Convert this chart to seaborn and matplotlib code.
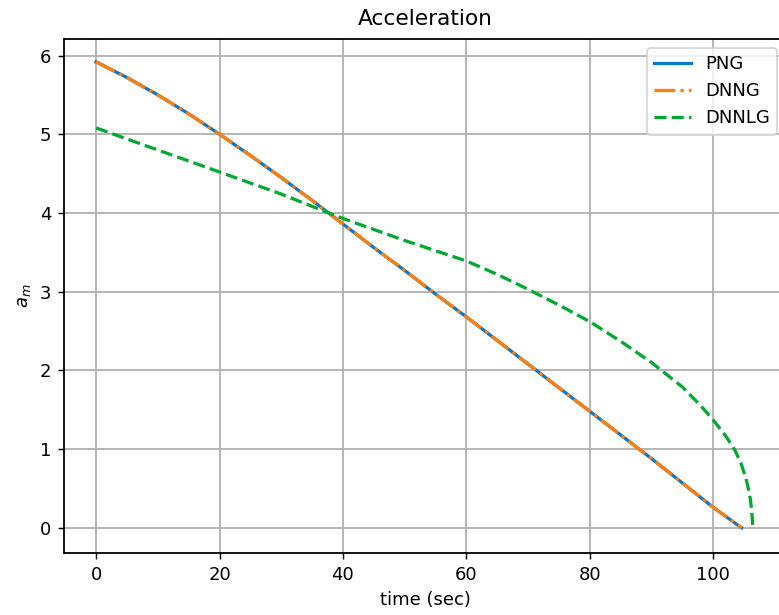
import matplotlib
matplotlib.use("Agg")
import matplotlib.pyplot as plt
import seaborn as sns

# Data
png_t = [0, 5, 10, 15, 20, 25, 30, 35, 40, 45, 50, 55, 60, 65, 70, 75, 80, 85, 90, 95, 100, 104.6]
png_a = [5.92, 5.72, 5.50, 5.26, 5.00, 4.73, 4.45, 4.16, 3.86, 3.56, 3.27, 2.97, 2.68, 2.38,
         2.08, 1.78, 1.48, 1.18, 0.88, 0.57, 0.26, 0.0]
dnng_t = list(png_t)
dnng_a = list(png_a)
dnnlg_t = [0, 10, 20, 30, 38, 40, 50, 60, 65, 70, 75, 80, 85, 90, 95, 98, 100, 102, 103.5,
           104.5, 105.3, 105.9, 106.2, 106.35, 106.4]
dnnlg_a = [5.08, 4.80, 4.52, 4.24, 3.99, 3.93, 3.65, 3.39, 3.22, 3.03, 2.83, 2.62, 2.37, 2.10,
           1.79, 1.55, 1.37, 1.17, 0.99, 0.82, 0.63, 0.43, 0.25, 0.10, 0.03]

DPI = 130
fig = plt.figure(figsize=(779 / DPI, 615 / DPI), dpi=DPI)
ax = fig.add_axes([64 / 779, 62 / 615, (786 - 64) / 779, (553 - 39) / 615])

sns.lineplot(x=png_t, y=png_a, ax=ax, color="#0a78c8", linewidth=1.8, label="PNG")
sns.lineplot(x=dnng_t, y=dnng_a, ax=ax, color="#ff7f0e", linewidth=1.8, linestyle="-.", label="DNNG")
sns.lineplot(x=dnnlg_t, y=dnnlg_a, ax=ax, color="#00a832", linewidth=1.8, linestyle="--", label="DNNLG")

ax.set_xlim(-5.2, 111.8)
ax.set_ylim(-0.32, 6.21)
ax.set_xticks([0, 20, 40, 60, 80, 100])
ax.set_yticks([0, 1, 2, 3, 4, 5, 6])
ax.grid(True, color="#b0b0b0", linewidth=1.0)
ax.set_title("Acceleration", fontsize=12, pad=8)
ax.set_xlabel("time (sec)", fontsize=10)
ax.set_ylabel("$a_m$", fontsize=10)
ax.tick_params(labelsize=10)
for s in ax.spines.values():
    s.set_linewidth(1.0)
ax.legend(loc="upper right", fontsize=10)

fig.savefig("out.png", dpi=DPI)
